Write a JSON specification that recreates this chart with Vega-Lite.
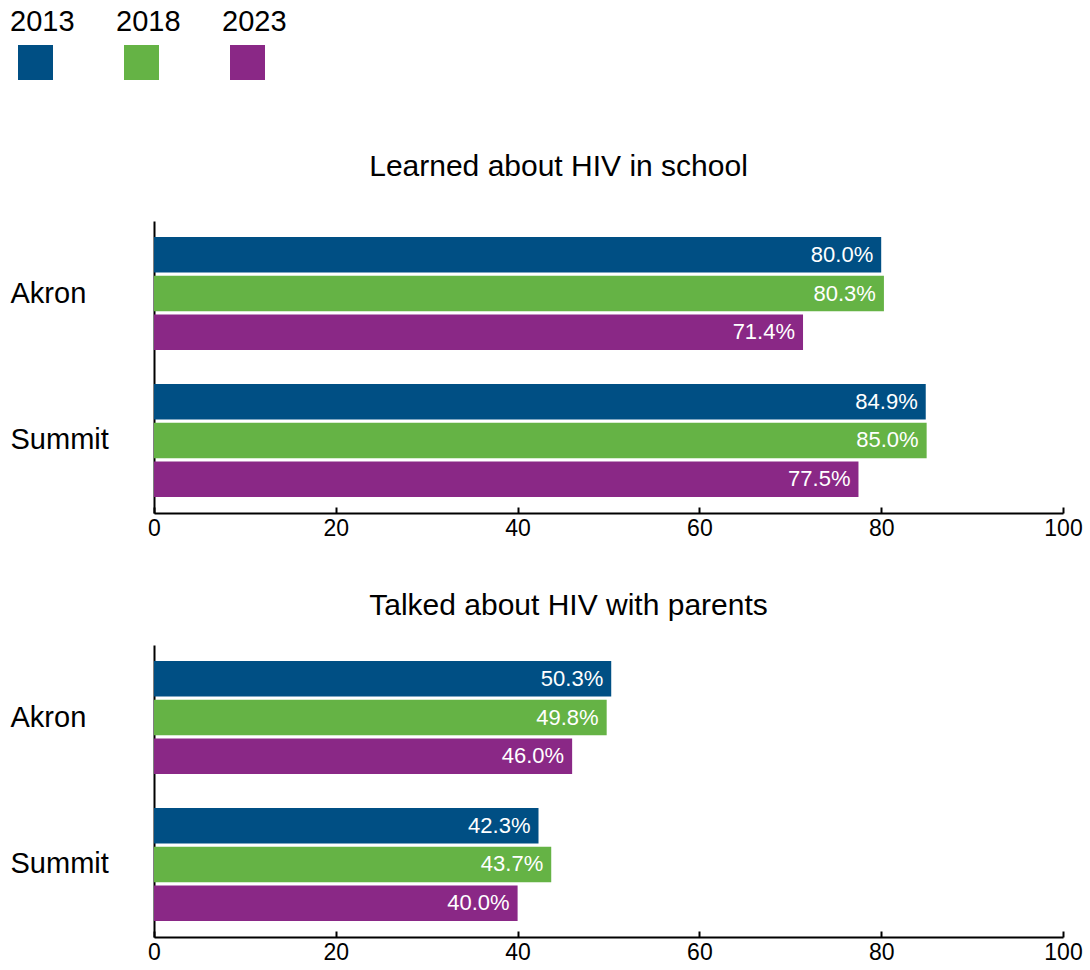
{
  "$schema": "https://vega.github.io/schema/vega-lite/v6.json",
  "padding": {"left": 10, "top": 0, "right": 5, "bottom": 0},
  "background": "white",
  "spacing": 51,
  "config": {"view": {"stroke": null}, "font": "Liberation Sans"},
  "datasets": {
    "years": [{"Year": "2013"}, {"Year": "2018"}, {"Year": "2023"}],
    "rates": [
      {"Question": "school", "Region": "Akron", "Year": "2013", "Value": 80.0},
      {"Question": "school", "Region": "Akron", "Year": "2018", "Value": 80.3},
      {"Question": "school", "Region": "Akron", "Year": "2023", "Value": 71.4},
      {"Question": "school", "Region": "Summit", "Year": "2013", "Value": 84.9},
      {"Question": "school", "Region": "Summit", "Year": "2018", "Value": 85.0},
      {"Question": "school", "Region": "Summit", "Year": "2023", "Value": 77.5},
      {"Question": "parents", "Region": "Akron", "Year": "2013", "Value": 50.3},
      {"Question": "parents", "Region": "Akron", "Year": "2018", "Value": 49.8},
      {"Question": "parents", "Region": "Akron", "Year": "2023", "Value": 46.0},
      {"Question": "parents", "Region": "Summit", "Year": "2013", "Value": 42.3},
      {"Question": "parents", "Region": "Summit", "Year": "2018", "Value": 43.7},
      {"Question": "parents", "Region": "Summit", "Year": "2023", "Value": 40.0}
    ]
  },
  "vconcat": [
    {
      "width": 318,
      "height": 101,
      "data": {"name": "years"},
      "encoding": {
        "x": {"field": "Year", "type": "nominal", "axis": null, "scale": {"paddingInner": 0, "paddingOuter": 0}}
      },
      "layer": [
        {
          "mark": {"type": "square", "size": 1225, "opacity": 1, "filled": true, "yOffset": 12, "xOffset": -171.5},
          "encoding": {
            "color": {"field": "Year", "type": "nominal", "legend": null, "scale": {"domain": ["2013", "2018", "2023"], "range": ["#004f84", "#65b345", "#8a2886"]}}
          }
        },
        {
          "mark": {"type": "text", "align": "left", "baseline": "alphabetic", "dx": -197, "dy": -19.5, "fontSize": 29, "color": "black"},
          "encoding": {"text": {"field": "Year", "type": "nominal"}}
        }
      ]
    },
    {
      "width": 909,
      "height": 292,
      "data": {"name": "rates"},
      "transform": [
        {"filter": "datum.Question == 'school'"},
        {"calculate": "format(datum.Value, '.1f') + '%'", "as": "Label"}
      ],
      "title": {"text": "Learned about HIV in school", "fontSize": 30, "fontWeight": "normal", "color": "black", "anchor": "middle", "frame": "group", "dx": -50, "baseline": "alphabetic", "offset": 15},
      "encoding": {
        "y": {"field": "Region", "type": "nominal", "sort": ["Akron", "Summit"], "scale": {"paddingInner": 0.231, "paddingOuter": 0.109},
          "axis": {"title": null, "ticks": false, "tickSize": 0, "domainColor": "black", "domainWidth": 2, "labelAlign": "left", "labelPadding": 144, "labelFontSize": 29, "labelColor": "black"}},
        "yOffset": {"field": "Year", "type": "nominal", "sort": ["2013", "2018", "2023"], "scale": {"paddingInner": 0.08, "paddingOuter": 0}},
        "x": {"field": "Value", "type": "quantitative", "scale": {"domain": [0, 100], "nice": false},
          "axis": {"values": [0, 20, 40, 60, 80, 100], "grid": false, "title": null, "domainColor": "black", "domainWidth": 2, "tickColor": "black", "tickWidth": 2, "tickSize": -6, "labelFontSize": 23, "labelColor": "black", "labelPadding": 10, "labelFlush": false}},
        "color": {"field": "Year", "type": "nominal", "legend": null, "scale": {"domain": ["2013", "2018", "2023"], "range": ["#004f84", "#65b345", "#8a2886"]}}
      },
      "layer": [
        {"mark": {"type": "bar"}},
        {"mark": {"type": "text", "align": "right", "dx": -8, "fontSize": 22, "baseline": "middle"},
          "encoding": {"text": {"field": "Label", "type": "nominal"}, "color": {"value": "white"}}}
      ]
    },
    {
      "width": 909,
      "height": 292,
      "data": {"name": "rates"},
      "transform": [
        {"filter": "datum.Question == 'parents'"},
        {"calculate": "format(datum.Value, '.1f') + '%'", "as": "Label"}
      ],
      "title": {"text": "Talked about HIV with parents", "fontSize": 30, "fontWeight": "normal", "color": "black", "anchor": "middle", "frame": "group", "dx": -40, "baseline": "alphabetic", "offset": 0},
      "encoding": {
        "y": {"field": "Region", "type": "nominal", "sort": ["Akron", "Summit"], "scale": {"paddingInner": 0.231, "paddingOuter": 0.109},
          "axis": {"title": null, "ticks": false, "tickSize": 0, "domainColor": "black", "domainWidth": 2, "labelAlign": "left", "labelPadding": 144, "labelFontSize": 29, "labelColor": "black"}},
        "yOffset": {"field": "Year", "type": "nominal", "sort": ["2013", "2018", "2023"], "scale": {"paddingInner": 0.08, "paddingOuter": 0}},
        "x": {"field": "Value", "type": "quantitative", "scale": {"domain": [0, 100], "nice": false},
          "axis": {"values": [0, 20, 40, 60, 80, 100], "grid": false, "title": null, "domainColor": "black", "domainWidth": 2, "tickColor": "black", "tickWidth": 2, "tickSize": -6, "labelFontSize": 23, "labelColor": "black", "labelPadding": 10, "labelFlush": false}},
        "color": {"field": "Year", "type": "nominal", "legend": null, "scale": {"domain": ["2013", "2018", "2023"], "range": ["#004f84", "#65b345", "#8a2886"]}}
      },
      "layer": [
        {"mark": {"type": "bar"}},
        {"mark": {"type": "text", "align": "right", "dx": -8, "fontSize": 22, "baseline": "middle"},
          "encoding": {"text": {"field": "Label", "type": "nominal"}, "color": {"value": "white"}}}
      ]
    }
  ]
}
